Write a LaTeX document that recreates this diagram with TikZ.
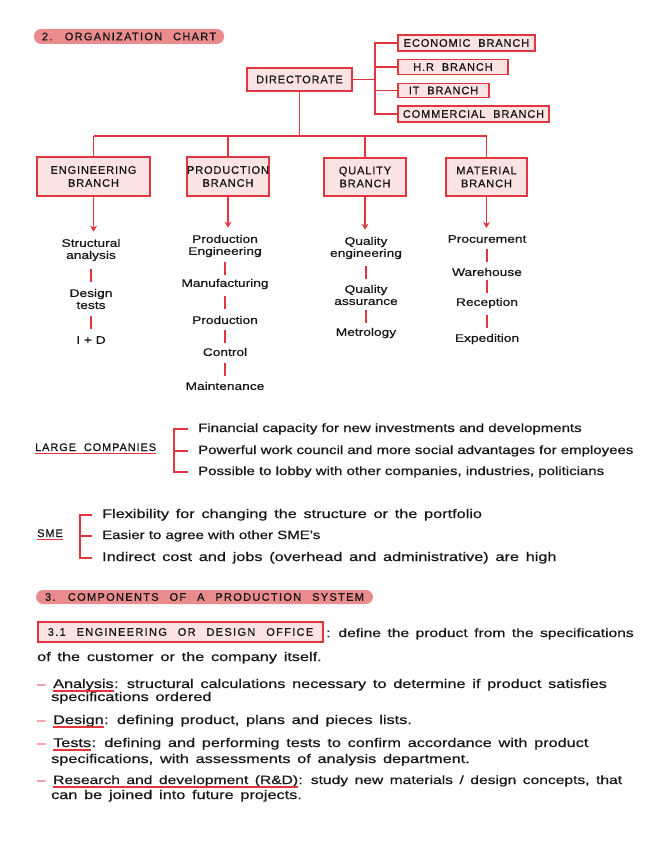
\documentclass[tikz,border=0pt]{standalone}
\usepackage{fontspec}
\setmainfont[FakeStretch=1.25,FakeBold=0.6]{Liberation Sans}
\newfontfamily\widef[FakeStretch=1.3,WordSpace=1.5,FakeBold=0.6]{Liberation Sans}
\newfontfamily\capsf[LetterSpace=8,WordSpace=2,FakeBold=0.6]{Liberation Sans}
\newfontfamily\hdrf[LetterSpace=12,WordSpace=2.5,FakeBold=0.6]{Liberation Sans}
\usetikzlibrary{arrows.meta,calc}
\definecolor{lred}{HTML}{E0363F}
\definecolor{pillc}{HTML}{EA8C8E}
\definecolor{pinkc}{HTML}{FBE3E3}
\definecolor{ink}{HTML}{161616}
\newcommand\sepl[2]{\draw[sepst] ($(#1.south)!.5!(#2.north)+(0,-6.5)$) -- ($(#1.south)!.5!(#2.north)+(0,6.5)$);}
\begin{document}
\begin{tikzpicture}[x=1pt,y=-1pt,
  every node/.style={text=ink, inner sep=0pt},
  hdr/.style={fill=pillc, rounded corners=7pt, font=\hdrf\fontsize{11}{12}\selectfont},
  box/.style={draw=lred, fill=pinkc, line width=1.4pt, font=\capsf\fontsize{11}{13}\selectfont, align=center},
  ln/.style={draw=lred, line width=1.5pt},
  arr/.style={ln, -{Stealth[length=6pt,width=7pt]}, shorten >=7pt},
  item/.style={font=\fontsize{11}{12}\selectfont, align=center},
  txt/.style={font=\fontsize{12}{14}\selectfont, anchor=base west},
  wtxt/.style={font=\widef\fontsize{12.5}{14}\selectfont, anchor=base west},
  mtxt/.style={font=\widef\fontsize{12}{14}\selectfont, anchor=base west},
  capt/.style={font=\capsf\fontsize{11}{12}\selectfont, anchor=base west},
  sepst/.style={draw=lred, line width=1.6pt},
  uline/.style={draw=lred, line width=1.2pt},
  bul/.style={txt, text=lred},
]
\useasboundingbox (0,0) rectangle (656,848);

% ---------- section 2 header
\node[hdr, minimum width=190pt, minimum height=15pt] (h2) at (129,36.5) {2. ORGANIZATION CHART};

% ---------- directorate and staff branches
\node[box, minimum width=105pt, minimum height=23pt] (dir) at (299.5,79.5) {DIRECTORATE};
\node[box, minimum width=137pt, minimum height=16pt] (eco) at (466.5,43) {ECONOMIC BRANCH};
\node[box, minimum width=110pt, minimum height=15pt] (hr) at (453,67) {H.R BRANCH};
\node[box, minimum width=91pt, minimum height=14pt] (it) at (443.5,90.5) {IT BRANCH};
\node[box, minimum width=151pt, minimum height=16pt] (com) at (473.5,114) {COMMERCIAL BRANCH};

\coordinate (spine) at (375,0);
\draw[ln] (dir.east) -- (dir.east -| spine);
\draw[ln] (eco.west) -- (eco.west -| spine) -- (com.west -| spine) -- (com.west);
\draw[ln] (hr.west) -- (hr.west -| spine);
\draw[ln] (it.west) -- (it.west -| spine);

% ---------- line branches
\node[box, minimum width=113pt, minimum height=39pt] (eng) at (93.5,176.5) {ENGINEERING\\BRANCH};
\node[box, minimum width=82pt, minimum height=39pt] (prod) at (228,176.5) {PRODUCTION\\BRANCH};
\node[box, minimum width=82pt, minimum height=38pt] (qual) at (365,177) {QUALITY\\BRANCH};
\node[box, minimum width=81pt, minimum height=38pt] (mat) at (486.5,177) {MATERIAL\\BRANCH};

\coordinate (bus) at (0,136);
\draw[ln] (dir.south) -- (dir.south |- bus);
\draw[ln] (eng.north |- bus) -- (mat.north |- bus);
\foreach \b in {eng,prod,qual,mat} \draw[ln] (\b.north |- bus) -- (\b.north);

% ---------- lists
\node[item] (e1) at (91,250) {Structural\\analysis};
\node[item] (e2) at (91,299) {Design\\tests};
\node[item] (e3) at (91,340) {I + D};

\node[item] (p1) at (225,246) {Production\\Engineering};
\node[item] (p2) at (225,284) {Manufacturing};
\node[item] (p3) at (225,320) {Production};
\node[item] (p4) at (225,352) {Control};
\node[item] (p5) at (225,386) {Maintenance};

\node[item] (q1) at (366,248) {Quality\\engineering};
\node[item] (q2) at (366,295) {Quality\\assurance};
\node[item] (q3) at (366,333) {Metrology};

\node[item] (m1) at (487,239) {Procurement};
\node[item] (m2) at (487,272) {Warehouse};
\node[item] (m3) at (487,303) {Reception};
\node[item] (m4) at (487,339) {Expedition};

\draw[arr] (eng.south) -- (eng.south |- e1.north);
\draw[arr] (prod.south) -- (prod.south |- p1.north);
\draw[arr] (qual.south) -- (qual.south |- q1.north);
\draw[arr] (mat.south) -- (mat.south |- m1.north);

\sepl{e1}{e2} \sepl{e2}{e3}
\sepl{p1}{p2} \sepl{p2}{p3} \sepl{p3}{p4} \sepl{p4}{p5}
\sepl{q1}{q2} \sepl{q2}{q3}
\sepl{m1}{m2} \sepl{m2}{m3} \sepl{m3}{m4}

% ---------- large companies
\node[capt] (lc) at (35,451) {LARGE COMPANIES};
\draw[uline] ([yshift=-2.5pt]lc.base west) -- ([yshift=-2.5pt]lc.base east);
\node[txt] (lc1) at (198,432) {Financial capacity for new investments and developments};
\node[txt] (lc2) at (198,454) {Powerful work council and more social advantages for employees};
\node[txt] (lc3) at (198,475) {Possible to lobby with other companies, industries, politicians};
\coordinate (lcb) at (174,0);
\draw[ln] ([xshift=-10pt]lc1.west) -- (lc1.west -| lcb) -- (lc3.west -| lcb) -- ([xshift=-10pt]lc3.west);
\draw[ln] (lc2.west -| lcb) -- ([xshift=-10pt]lc2.west);

% ---------- SME
\node[capt] (sme) at (37,537) {SME};
\draw[uline] ([yshift=-2.5pt]sme.base west) -- ([yshift=-2.5pt]sme.base east);
\node[wtxt] (s1) at (102,518) {Flexibility for changing the structure or the portfolio};
\node[txt] (s2) at (102,539) {Easier to agree with other SME's};
\node[wtxt] (s3) at (102,561) {Indirect cost and jobs (overhead and administrative) are high};
\coordinate (smb) at (80,0);
\draw[ln] ([xshift=-10pt]s1.west) -- (s1.west -| smb) -- (s3.west -| smb) -- ([xshift=-10pt]s3.west);
\draw[ln] (s2.west -| smb) -- ([xshift=-10pt]s2.west);

% ---------- section 3
\node[hdr, minimum width=337pt, minimum height=14pt] (h3) at (204.5,597) {3. COMPONENTS OF A PRODUCTION SYSTEM};

\node[box, minimum width=285pt, minimum height=20pt, font=\hdrf\fontsize{11}{12}\selectfont] (d31) at (180.5,632) {3.1 ENGINEERING OR DESIGN OFFICE};
\node[mtxt] (d31t) at (326,637) {: define the product from the specifications};
\node[wtxt] (d31u) at (37,661) {of the customer or the company itself.};

\node[bul] (b1) at (37,688) {--};
\node[wtxt] (an) at (53,688) {Analysis};
\node[wtxt] (ant) at (an.base east) {: structural calculations necessary to determine if product satisfies};
\node[wtxt] (an2) at (51,701) {specifications ordered};
\draw[uline] ([yshift=-3pt]an.base west) -- ([yshift=-3pt]an.base east);

\node[bul] (b2) at (37,724) {--};
\node[wtxt] (de) at (53,724) {Design};
\node[wtxt] (det) at (de.base east) {: defining product, plans and pieces lists.};
\draw[uline] ([yshift=-3pt]de.base west) -- ([yshift=-3pt]de.base east);

\node[bul] (b3) at (37,747) {--};
\node[wtxt] (te) at (53,747) {Tests};
\node[wtxt] (tet) at (te.base east) {: defining and performing tests to confirm accordance with product};
\node[wtxt] (te2) at (51,763) {specifications, with assessments of analysis department.};
\draw[uline] ([yshift=-3pt]te.base west) -- ([yshift=-3pt]te.base east);

\node[bul] (b4) at (37,784) {--};
\node[mtxt] (rd) at (53,784) {Research and development (R\&D)};
\node[mtxt] (rdt) at (rd.base east) {: study new materials / design concepts, that};
\node[wtxt] (rd2) at (51,799) {can be joined into future projects.};
\draw[uline] ([yshift=-3pt]rd.base west) -- ([yshift=-3pt]rd.base east);
\end{tikzpicture}
\end{document}
